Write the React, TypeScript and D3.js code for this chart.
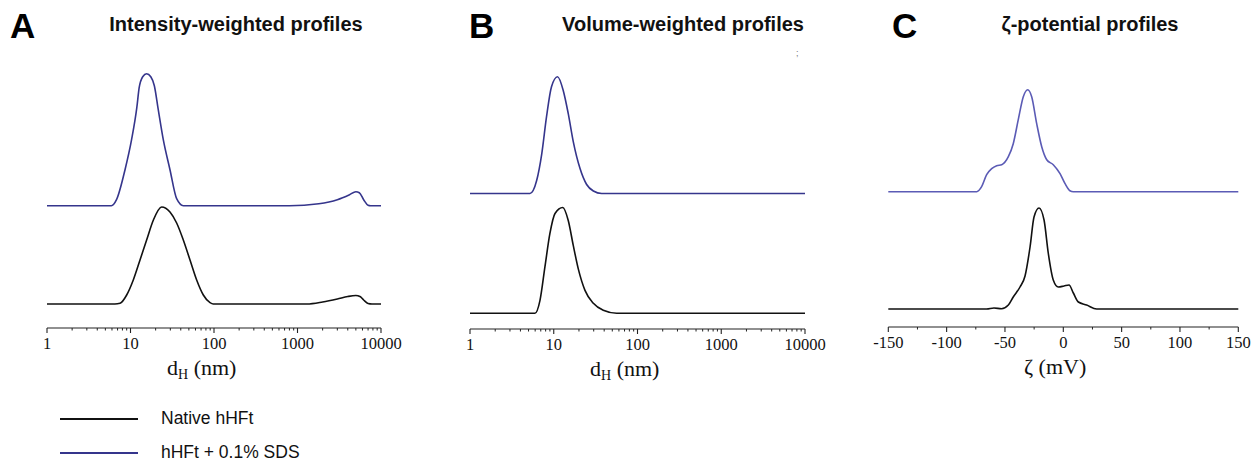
import React from "react";
import * as d3 from "d3";

// hydrodynamic diameter (nm), relative intensity
const intensityNative: [number, number][] = [
  [1, 0], [6.5, 0], [7.5, 0.007], [9, 0.09], [10.8, 0.24], [13, 0.44], [15.6, 0.64],
  [18.8, 0.84], [23.6, 0.97], [29.7, 0.92], [35.7, 0.81], [42.9, 0.64], [51.6, 0.44],
  [62, 0.24], [74.5, 0.09], [89.6, 0.013], [98, 0], [1300, 0], [2000, 0.02],
  [3000, 0.05], [4000, 0.075], [5000, 0.085], [5600, 0.075], [6200, 0.04],
  [7000, 0.005], [7800, 0], [10000, 0],
];
const intensitySDS: [number, number][] = [
  [1, 0], [5.9, 0], [6.8, 0.06], [8.6, 0.36], [10.3, 0.66], [11.9, 0.98], [12.7, 1.18],
  [14, 1.29], [15.6, 1.32], [17.5, 1.29], [19.3, 1.2], [21.5, 0.96], [24.7, 0.66],
  [29.7, 0.36], [35.7, 0.07], [43, 0], [800, 0], [1800, 0.02], [3000, 0.06],
  [4200, 0.11], [5000, 0.14], [5500, 0.13], [6200, 0.06], [7000, 0.005], [7500, 0],
  [10000, 0],
];
const volumeNative: [number, number][] = [
  [1, 0], [5.97, 0], [6.85, 0.13], [7.86, 0.47], [9, 0.8], [10.35, 1.0], [12.8, 1.06],
  [14.9, 0.93], [17.1, 0.68], [19.7, 0.44], [23.6, 0.23], [29.7, 0.1], [39, 0.03],
  [56.5, 0], [10000, 0],
];
const volumeSDS: [number, number][] = [
  [1, 0], [5.2, 0], [6.25, 0.13], [7.2, 0.4], [8.2, 0.77], [9.4, 1.07], [11.1, 1.17],
  [13, 1.03], [14.9, 0.8], [17.1, 0.52], [20.6, 0.25], [24.7, 0.09], [29.7, 0.025],
  [37.3, 0], [10000, 0],
];
// zeta potential (mV), relative intensity
const zetaNative: [number, number][] = [
  [-150, 0], [-65.7, 0], [-59.4, 0.01], [-53, 0.003], [-47.1, 0.04], [-42.9, 0.12],
  [-37.1, 0.22], [-32.8, 0.33], [-28.5, 0.62], [-25.1, 0.92], [-20.8, 1.01],
  [-16.5, 0.89], [-12.9, 0.56], [-8.6, 0.29], [-4.3, 0.22], [0.6, 0.23], [4.9, 0.24],
  [8.6, 0.16], [12.9, 0.07], [20, 0.04], [28.6, 0], [150, 0],
];
const zetaSDS: [number, number][] = [
  [-150, 0], [-74.2, 0], [-70, 0.05], [-65.7, 0.17], [-61.4, 0.23], [-57.1, 0.26],
  [-52.8, 0.27], [-47.1, 0.35], [-42.9, 0.48], [-38.6, 0.72], [-34.3, 0.95],
  [-30.5, 1.02], [-27.1, 0.95], [-22.8, 0.68], [-18.5, 0.45], [-14.2, 0.32],
  [-8.6, 0.27], [-2.8, 0.18], [1.5, 0.08], [5.7, 0.01], [8.6, 0], [150, 0],
];

const sizeTicks = [1, 10, 100, 1000, 10000];
const zetaTicks = [-150, -100, -50, 0, 50, 100, 150];
const seriesNames = ["Native hHFt", "hHFt + 0.1% SDS"];

const sans = "'Liberation Sans', Arial, sans-serif";
const serif = "'Liberation Serif', 'Times New Roman', serif";
const BLACK = "#111";

type Panel = {
  letter: string;
  title: string;
  letterX: number;
  titleX: number;
  x: any;
  y: d3.ScaleLinear<number, number>;
  axisY: number;
  offset: number;
  native: [number, number][];
  sds: [number, number][];
  sdsColor: string;
  log: boolean;
  label: "d" | "z";
  labelX: number;
};

const panels: Panel[] = [
  {
    letter: "A", title: "Intensity-weighted profiles", letterX: 10, titleX: 236,
    x: d3.scaleLog().domain([1, 10000]).range([47, 381]),
    y: d3.scaleLinear().domain([0, 2.3]).range([304, 74]),
    axisY: 328, offset: 0.983, native: intensityNative, sds: intensitySDS,
    sdsColor: "#35358c", log: true, label: "d", labelX: 167,
  },
  {
    letter: "B", title: "Volume-weighted profiles", letterX: 469, titleX: 683,
    x: d3.scaleLog().domain([1, 10000]).range([470, 805]),
    y: d3.scaleLinear().domain([0, 2.37]).range([313.3, 76.7]),
    axisY: 329, offset: 1.2, native: volumeNative, sds: volumeSDS,
    sdsColor: "#35358c", log: true, label: "d", labelX: 590,
  },
  {
    letter: "C", title: "ζ-potential profiles", letterX: 892, titleX: 1090,
    x: d3.scaleLinear().domain([-150, 150]).range([888.3, 1238.3]),
    y: d3.scaleLinear().domain([0, 2.2]).range([309, 89]),
    axisY: 327, offset: 1.173, native: zetaNative, sds: zetaSDS,
    sdsColor: "#5b5bb5", log: false, label: "z", labelX: 1024,
  },
];

function PanelView({ p }: { p: Panel }) {
  const lineFor = (off: number) =>
    d3
      .line<[number, number]>()
      .x((d) => p.x(d[0]))
      .y((d) => p.y(d[1] + off))
      .curve(d3.curveMonotoneX);

  const majors = p.log ? sizeTicks : zetaTicks;
  let minors: number[] = [];
  if (p.log) {
    for (let i = 0; i < sizeTicks.length - 1; i++)
      for (let k = 2; k <= 9; k++) minors.push(sizeTicks[i] * k);
  } else {
    minors = d3.range(-125, 150, 50);
  }
  const [x0, x1] = p.x.range();

  return (
    <g>
      <text x={p.letterX} y={38} fontFamily={sans} fontWeight="bold" fontSize={35} fill="#000">
        {p.letter}
      </text>
      <text x={p.titleX} y={31} textAnchor="middle" fontFamily={sans} fontWeight="bold" fontSize={20} fill="#111">
        {p.title}
      </text>
      <path d={lineFor(p.offset)(p.sds) || ""} fill="none" stroke={p.sdsColor} strokeWidth={1.6} />
      <path d={lineFor(0)(p.native) || ""} fill="none" stroke={BLACK} strokeWidth={1.6} />
      <line x1={x0} x2={x1} y1={p.axisY} y2={p.axisY} stroke="#222" strokeWidth={1.2} />
      {majors.map((t) => (
        <g key={"M" + t}>
          <line x1={p.x(t)} x2={p.x(t)} y1={p.axisY} y2={p.axisY + 5} stroke="#222" strokeWidth={1.1} />
          <text x={p.x(t)} y={p.axisY + 21} textAnchor="middle" fontFamily={serif} fontSize={16.5} fill="#111">
            {t}
          </text>
        </g>
      ))}
      {minors.map((t) => (
        <line key={"m" + t} x1={p.x(t)} x2={p.x(t)} y1={p.axisY} y2={p.axisY + 2.5} stroke="#222" strokeWidth={1} />
      ))}
      {p.label === "d" ? (
        <text x={p.labelX} y={p.axisY + 47} fontFamily={serif} fontSize={22} fill="#111">
          d<tspan fontSize={14} dy={4}>H</tspan>
          <tspan dy={-4}> (nm)</tspan>
        </text>
      ) : (
        <text x={p.labelX} y={p.axisY + 47} fontFamily={serif} fontSize={22} fill="#111">
          ζ (mV)
        </text>
      )}
    </g>
  );
}

export default function App() {
  const legendColors = [BLACK, "#35358c"];
  const legendY = d3.scalePoint<string>().domain(seriesNames).range([419, 453]);
  return (
    <svg width={1257} height={462} style={{ position: "absolute", left: 0, top: 0, background: "#fff" }}>
      <rect width={1257} height={462} fill="#fff" />
      {panels.map((p) => (
        <PanelView key={p.letter} p={p} />
      ))}
      <text x={796} y={56} fontFamily={sans} fontSize={9} fill="#777">;</text>
      {seriesNames.map((s, i) => (
        <g key={s}>
          <line x1={60} x2={138} y1={legendY(s)} y2={legendY(s)} stroke={legendColors[i]} strokeWidth={2} />
          <text x={161} y={(legendY(s) || 0) + 5} fontFamily={sans} fontSize={17.5} fill="#111">
            {s}
          </text>
        </g>
      ))}
    </svg>
  );
}
